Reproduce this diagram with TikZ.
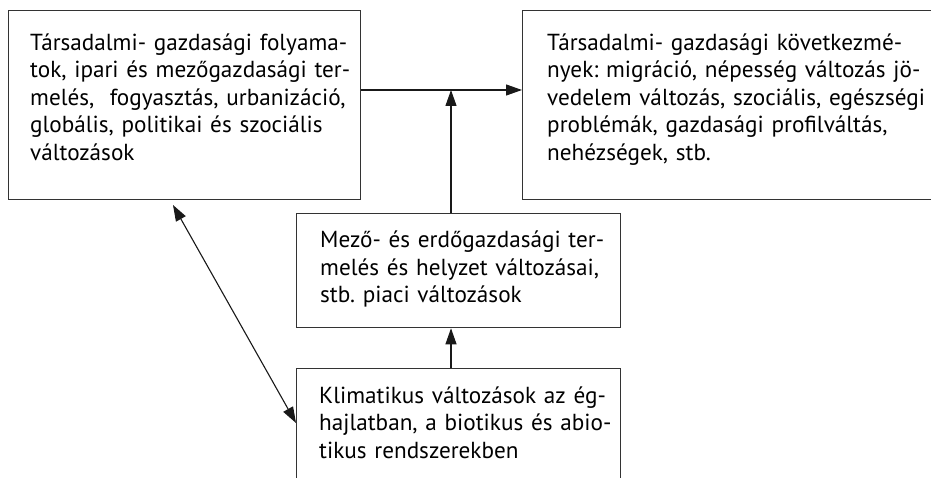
\documentclass[tikz,border=0pt]{standalone}
\usepackage{fontspec}
\setmainfont{PT Sans}[WordSpace={0.85,1.2,1.5}]
\usetikzlibrary{arrows.meta,calc}
\newcommand\jline[2]{\makebox[#1][s]{#2}}
\tikzset{
  boxnode/.style={draw=black!80, line width=1.3pt, inner sep=0pt, anchor=north west},
  txt/.style={inner sep=0pt, anchor=north west, align=left, font=\fontsize{23.2}{27.5}\selectfont\frenchspacing},
  arr/.style={draw=black!90, line width=1.1pt, -{Triangle[length=16pt,width=11pt]}},
  darr/.style={draw=black!90, line width=1.1pt, {Triangle[length=16pt,width=11pt]}-{Triangle[length=16pt,width=11pt]}}
}
\begin{document}
\begin{tikzpicture}[x=1pt,y=-1pt]
\clip (0,0) rectangle (931,478);
\fill[white] (0,0) rectangle (931,478);
% boxes
\node[boxnode, minimum width=352pt, minimum height=189pt] (lbox) at (8,10) {};
\node[boxnode, minimum width=440pt, minimum height=189pt] (rbox) at (522,10) {};
\node[boxnode, minimum width=324pt, minimum height=114pt] (mid) at (296,213) {};
\node[boxnode, minimum width=324pt, minimum height=160pt] (clim) at (296,368) {};
% texts
\node[txt, text width=303pt] (ltxt) at (30,33) {\rule{0pt}{17pt}\jline{303pt}{Társadalmi- gazdasági folyama-}\\
\jline{303pt}{tok, ipari és mezőgazdasági ter-}\\
\jline{303pt}{melés,\ \ fogyasztás, urbanizáció,}\\
\jline{303pt}{globális, politikai és szociális}\\
változások};
\node[txt, text width=378pt] (rtxt) at (547,33) {\rule{0pt}{17pt}\jline{378pt}{Társadalmi- gazdasági következmé-}\\
\jline{378pt}{nyek: migráció, népesség változás jö-}\\
\jline{378pt}{vedelem változás, szociális, egészségi}\\
\jline{378pt}{problémák, gazdasági profilváltás,}\\
nehézségek, stb.};
\node[txt, text width=285pt] (mtxt) at (320,230.5) {\rule{0pt}{17pt}\jline{285pt}{Mező- és erdőgazdasági ter-}\\
\jline{285pt}{melés és helyzet változásai,}\\
stb. piaci változások};
\node[txt, text width=286pt] (ctxt) at (319,386) {\rule{0pt}{17pt}\jline{286pt}{Klimatikus változások az ég-}\\
\jline{286pt}{hajlatban, a biotikus és abio-}\\
tikus rendszerekben};
% connectors
\coordinate (j) at (451,90);
\coordinate (dtop) at (173,205);
\coordinate (dbot) at (296,423);
\draw[arr] (lbox.east |- j) -- (rbox.west |- j);
\draw[arr] (mid.north -| j) -- (j);
\draw[arr] (clim.north -| j) -- (mid.south -| j);
\draw[darr] (dtop) -- (clim.west |- dbot);
\end{tikzpicture}
\end{document}
